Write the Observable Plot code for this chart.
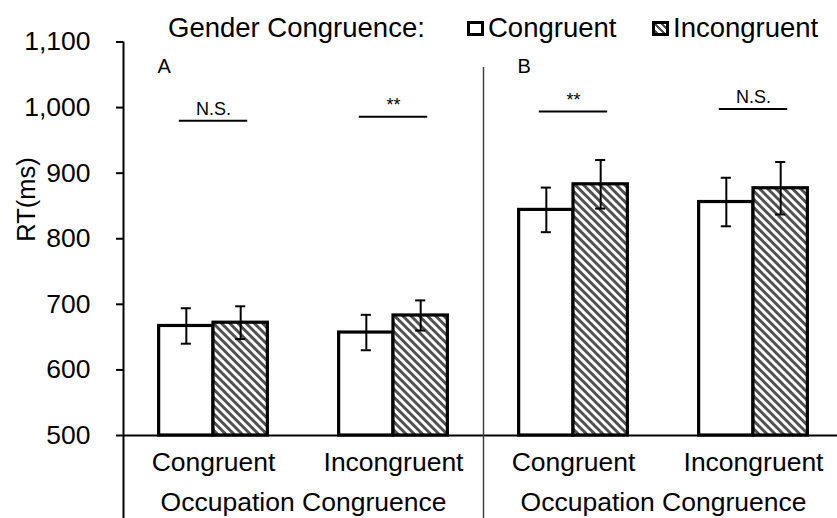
<!DOCTYPE html>
<html>
<head>
<meta charset="utf-8">
<script src="https://cdn.jsdelivr.net/npm/d3@7"></script>
<script src="https://cdn.jsdelivr.net/npm/@observablehq/plot@0.6"></script>
<style>
  html, body { margin: 0; padding: 0; background: white; }
  #wrap { width: 837px; font-family: 'Liberation Sans', Arial, sans-serif; color: black; }
  #legend { position: relative; height: 30px; z-index: 2; }
  #legend .t { position: absolute; font-size: 27.5px; line-height: 1; white-space: nowrap; }
  #legend .sw { position: absolute; box-sizing: border-box; border: 3px solid black; }
  #chart svg [aria-label="y-axis tick"] { stroke-width: 2; }
</style>
</head>
<body>
<div id="wrap">
  <div id="legend"></div>
  <div id="chart"></div>
</div>
<script>
// ---- data ----
const yTicks = [500, 600, 700, 800, 900, 1000, 1100];
const panelNames = ["A", "B"];
const panelOf = ["A", "A", "B", "B"];
const occupation = ["Congruent", "Incongruent", "Congruent", "Incongruent"];
const genderLevels = ["Congruent", "Incongruent"];
const meanCongruent = [667, 657, 844, 856];
const meanIncongruent = [672, 683, 883, 877];
const errCongruent = [27, 27, 34, 37];
const errIncongruent = [25, 23, 37, 40];
const sigLabel = ["N.S.", "**", "**", "N.S."];
const sigHeight = [980, 986, 994, 998];
const legendTitle = "Gender Congruence:";
const axisTitle = "Occupation Congruence";
const yTitle = "RT(ms)";

// ---- build tables ----
const W = 0.302;   // bar width in slot units
const CAP = 0.028; // error cap half width
const SIG = 0.19;  // significance line half width
const rows = [];
occupation.forEach((occ, i) => {
  genderLevels.forEach((g, j) => {
    const mean = j === 0 ? meanCongruent[i] : meanIncongruent[i];
    const err = j === 0 ? errCongruent[i] : errIncongruent[i];
    const c = i + 0.5;
    rows.push({
      slot: i, gender: g, mean, err,
      x1: j === 0 ? c - W : c, x2: j === 0 ? c : c + W,
      xc: j === 0 ? c - W / 2 : c + W / 2
    });
  });
});
const sigs = sigLabel.map((s, i) => ({label: s, y: sigHeight[i], xc: i + 0.5}));
const cats = occupation.map((o, i) => ({label: o, xc: i + 0.5}));
const panels = panelNames.map((p, k) => ({label: p, start: 2 * k, center: 2 * k + 1}));

// ---- legend ----
const legend = document.getElementById("legend");
legend.innerHTML = `
  <div class="t" style="left:168px;top:14px">${legendTitle}</div>
  <div class="sw" style="left:467px;top:21px;width:17px;height:15px;background:white"></div>
  <div class="t" style="left:488px;top:14px">${genderLevels[0]}</div>
  <div class="sw" style="left:652px;top:21px;width:17px;height:15px;background:repeating-linear-gradient(45deg,#505050 0 2.5px,white 2.5px 5px)"></div>
  <div class="t" style="left:673px;top:14px">${genderLevels[1]}</div>`;

// ---- chart ----
const plot = Plot.plot({
  width: 837,
  height: 488,
  marginTop: 11.5,
  marginBottom: 83,
  marginLeft: 123,
  marginRight: 0,
  style: {
    fontFamily: "'Liberation Sans', Arial, sans-serif",
    fontSize: "26.5px",
    color: "black",
    background: "transparent",
    overflow: "visible"
  },
  x: {domain: [0, 4], range: [123, 843], axis: null},
  y: {
    domain: [500, 1100],
    ticks: yTicks,
    tickFormat: d3.format(","),
    tickSize: 7,
    tickPadding: 26,
    label: null
  },
  color: {domain: genderLevels, range: ["white", "url(#hatch)"]},
  marks: [
    Plot.rectY(rows, {x1: "x1", x2: "x2", y1: 500, y2: "mean", fill: "gender", stroke: "black", strokeWidth: 3.2}),
    Plot.ruleX(rows, {x: "xc", y1: d => d.mean - d.err, y2: d => d.mean + d.err, stroke: "black", strokeWidth: 2}),
    Plot.ruleY(rows, {y: d => d.mean - d.err, x1: d => d.xc - CAP, x2: d => d.xc + CAP, stroke: "black", strokeWidth: 2}),
    Plot.ruleY(rows, {y: d => d.mean + d.err, x1: d => d.xc - CAP, x2: d => d.xc + CAP, stroke: "black", strokeWidth: 2}),
    Plot.ruleY([500], {stroke: "black", strokeWidth: 2}),
    Plot.ruleX(panels.filter(p => p.start === 0), {x: "start", stroke: "black", strokeWidth: 2, insetBottom: -83}),
    Plot.ruleX(panels.filter(p => p.start > 0), {x: "start", stroke: "#404040", strokeWidth: 1.5, insetTop: 25.5, insetBottom: -83}),
    Plot.ruleY(sigs, {y: "y", x1: d => d.xc - SIG, x2: d => d.xc + SIG, stroke: "black", strokeWidth: 2}),
    Plot.text(sigs, {x: "xc", y: "y", text: "label", lineAnchor: "bottom", dy: -6, fontSize: 18}),
    Plot.text(panels, {x: "start", text: "label", frameAnchor: "top", textAnchor: "start", lineAnchor: "bottom", dx: 34, dy: 30.5, fontSize: 20}),
    Plot.text(cats, {x: "xc", text: "label", frameAnchor: "bottom", lineAnchor: "bottom", dy: 35}),
    Plot.text(panels, {x: "center", text: () => axisTitle, frameAnchor: "bottom", lineAnchor: "bottom", dy: 75}),
    Plot.text([yTitle], {text: d => d, frameAnchor: "left", rotate: -90, dx: -97, dy: 3, fontSize: 25.5})
  ]
});

// hatch pattern definition
const ns = "http://www.w3.org/2000/svg";
const defs = document.createElementNS(ns, "defs");
defs.innerHTML = `<pattern id="hatch" patternUnits="userSpaceOnUse" width="5.8" height="5.8" patternTransform="rotate(-45)">
  <rect width="5.8" height="5.8" fill="white"></rect>
  <rect width="2.9" height="5.8" fill="#505050"></rect>
</pattern>`;
plot.insertBefore(defs, plot.firstChild);
document.getElementById("chart").appendChild(plot);
</script>
</body>
</html>
